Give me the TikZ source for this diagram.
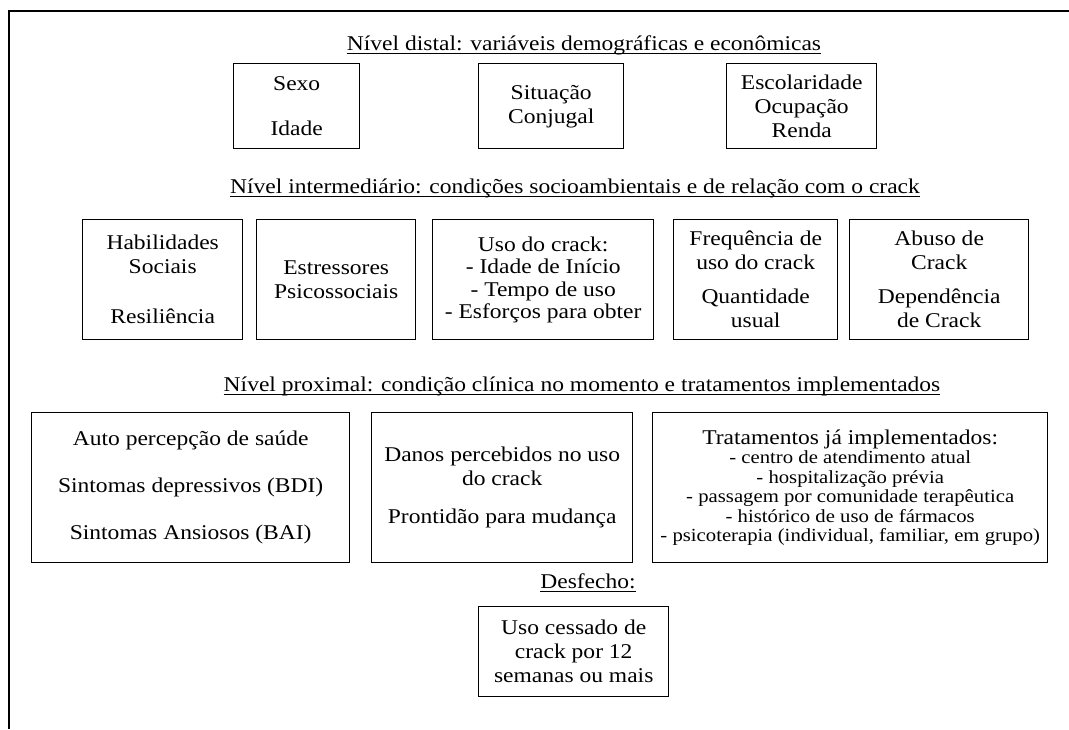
\documentclass[tikz,border=0pt]{standalone}
\usepackage{fontspec}
\setmainfont[FakeStretch=1.12]{Liberation Serif}
\newcommand{\mainsz}{\fontsize{21}{24}\selectfont}
\newcommand{\subsz}{\fontsize{18.5}{19.5}\selectfont}
\tikzset{
  box/.style={draw, line width=1.4pt, inner sep=0pt, align=center, anchor=north west, font=\mainsz},
  ttl/.style={inner sep=0pt, anchor=base, font=\mainsz},
  uline/.style={line width=1.1pt},
}
\begin{document}
\begin{tikzpicture}[x=1pt,y=-1pt]
\useasboundingbox (0,0) rectangle (1069,729);
\draw[line width=2pt] (9,729) -- (9,11) -- (1069,11);

% distal level
\node[ttl] (t1) at (584,50) {Nível distal: variáveis demográficas e econômicas};
\node[box, minimum width=126pt, minimum height=85pt] (sexo) at (233,63) {Sexo\\[21pt]Idade};
\node[box, minimum width=145pt, minimum height=85pt] (sit) at (478,63) {Situação\\Conjugal};
\node[box, minimum width=150pt, minimum height=85pt] (esc) at (726,63) {Escolaridade\\Ocupação\\Renda};

% intermediate level
\node[ttl] (t2) at (575,193) {Nível intermediário: condições socioambientais e de relação com o crack};
\node[box, minimum width=160pt, minimum height=120pt] (hab) at (82,219) {Habilidades\\Sociais\\[26pt]Resiliência};
\node[box, minimum width=159pt, minimum height=120pt] (est) at (256,219) {Estressores\\Psicossociais};
\node[box, minimum width=221pt, minimum height=120pt, font=\fontsize{21}{22.5}\selectfont] (uso) at (432,219) {Uso do crack:\\- Idade de Início\\- Tempo de uso\\- Esforços para obter};
\node[box, minimum width=164pt, minimum height=120pt] (freq) at (673,219) {Frequência de\\uso do crack\\[10pt]Quantidade\\usual};
\node[box, minimum width=179pt, minimum height=120pt] (abu) at (849,219) {Abuso de\\Crack\\[10pt]Dependência\\de Crack};

% proximal level
\node[ttl] (t3) at (582,391) {Nível proximal: condição clínica no momento e tratamentos implementados};
\node[box, minimum width=318pt, minimum height=150pt] (auto) at (31,412) {Auto percepção de saúde\\[23pt]Sintomas depressivos (BDI)\\[23pt]Sintomas Ansiosos (BAI)};
\node[box, minimum width=261pt, minimum height=150pt] (dan) at (371,412) {Danos percebidos no uso\\do crack\\[14pt]Prontidão para mudança};
\node[box, minimum width=395pt, minimum height=150pt, font=\subsz] (trat) at (652,412) {{\mainsz Tratamentos já implementados:}\\- centro de atendimento atual\\- hospitalização prévia\\- passagem por comunidade terapêutica\\- histórico de uso de fármacos\\- psicoterapia (individual, familiar, em grupo)};

% outcome
\node[ttl] (t4) at (588,588) {Desfecho:};
\node[box, minimum width=190pt, minimum height=90pt] (des) at (478,606) {Uso cessado de\\crack por 12\\semanas ou mais};

% underlines
\foreach \t in {t1,t2,t3,t4}
  \draw[uline] ([yshift=-3.5pt]\t.base west) -- ([yshift=-3.5pt]\t.base east);
\end{tikzpicture}
\end{document}
